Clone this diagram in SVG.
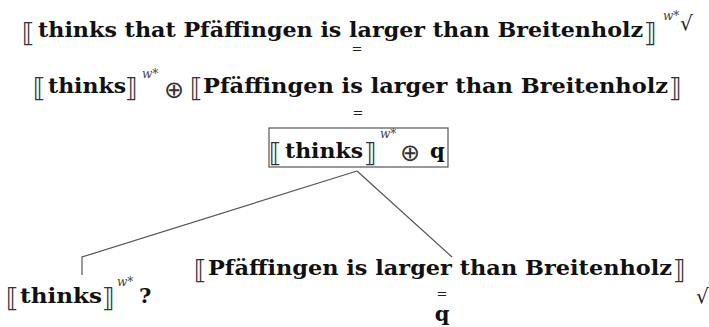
<svg xmlns="http://www.w3.org/2000/svg" width="709" height="327" viewBox="0 0 709 327">
<style>
.t{font-family:"DejaVu Serif","Liberation Serif",serif;font-weight:bold;font-size:21px;fill:#111}
.br{font-family:"DejaVu Sans","Liberation Sans",sans-serif;font-size:26px;fill:#333}
.sup{font-family:"DejaVu Serif","Liberation Serif",serif;font-style:italic;font-size:12px;fill:#444}
.op{font-family:"DejaVu Sans","Liberation Sans",sans-serif;font-size:24px;fill:#333}
.eq{font-family:"DejaVu Sans","Liberation Sans",sans-serif;font-size:13px;fill:#222}
.chk{font-family:"DejaVu Sans","Liberation Sans",sans-serif;font-size:20px;fill:#222}
.conn{fill:none;stroke:#555;stroke-width:1.2}
.box{fill:#fff;stroke:#555;stroke-width:1.2}
</style>
<rect width="709" height="327" fill="#fff"/>
<g id="connectors">
<polyline class="conn" points="82,275 82,257 357,171"/>
<line class="conn" x1="357" y1="171" x2="452" y2="257"/>
</g>
<g id="n-top">
<text class="br" x="22" y="42">⟦</text>
<text class="t" x="38" y="37" textLength="605" lengthAdjust="spacingAndGlyphs">thinks that Pfäffingen is larger than Breitenholz</text>
<text class="br" x="644" y="42">⟧</text>
<text class="sup" x="663" y="20">w*</text>
<text class="chk" x="680" y="30">√</text>
</g>
<g id="eq1">
<text class="eq" x="357" y="53" text-anchor="middle">=</text>
</g>
<g id="n-mid">
<text class="br" x="33" y="97">⟦</text>
<text class="t" x="48" y="93" textLength="78" lengthAdjust="spacingAndGlyphs">thinks</text>
<text class="br" x="125" y="97">⟧</text>
<text class="sup" x="142" y="78">w*</text>
<text class="op" x="164" y="98">⊕</text>
<text class="br" x="190" y="97">⟦</text>
<text class="t" x="203" y="93" textLength="465" lengthAdjust="spacingAndGlyphs">Pfäffingen is larger than Breitenholz</text>
<text class="br" x="669" y="97">⟧</text>
</g>
<g id="eq2">
<text class="eq" x="358" y="117" text-anchor="middle">=</text>
</g>
<g id="n-box">
<rect class="box" x="269" y="128" width="179" height="39"/>
<text class="br" x="269" y="162">⟦</text>
<text class="t" x="285" y="158" textLength="78" lengthAdjust="spacingAndGlyphs">thinks</text>
<text class="br" x="364" y="162">⟧</text>
<text class="sup" x="380" y="138">w*</text>
<text class="op" x="400" y="161">⊕</text>
<text class="t" x="430" y="158">q</text>
</g>
<g id="n-left">
<text class="br" x="6" y="307">⟦</text>
<text class="t" x="20" y="303" textLength="82" lengthAdjust="spacingAndGlyphs">thinks</text>
<text class="br" x="102" y="307">⟧</text>
<text class="sup" x="117" y="286">w*</text>
<text class="t" x="139" y="303">?</text>
</g>
<g id="n-right">
<text class="br" x="194" y="279">⟦</text>
<text class="t" x="208" y="275" textLength="464" lengthAdjust="spacingAndGlyphs">Pfäffingen is larger than Breitenholz</text>
<text class="br" x="673" y="279">⟧</text>
<text class="eq" x="442" y="298" text-anchor="middle" font-size="11">=</text>
<text class="t" x="442" y="321" text-anchor="middle">q</text>
<text class="chk" x="696" y="303">√</text>
</g>
</svg>
